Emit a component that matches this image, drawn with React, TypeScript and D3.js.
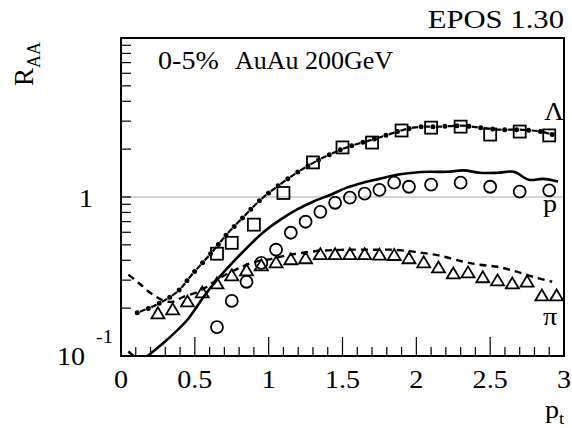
import { useEffect, useRef } from 'react';
import * as d3 from 'd3';

// Lambda (open squares) data
const lambdaPt = [0.65, 0.75, 0.9, 1.1, 1.3, 1.5, 1.7, 1.9, 2.1, 2.3, 2.5, 2.7, 2.9];
const lambdaRaa = [0.44, 0.515, 0.67, 1.06, 1.65, 2.05, 2.2, 2.62, 2.73, 2.77, 2.47, 2.58, 2.44];

// proton (open circles) data
const protonPt = [0.65, 0.75, 0.85, 0.95, 1.05, 1.15, 1.25, 1.35, 1.45, 1.55, 1.65, 1.75, 1.85, 1.95, 2.1, 2.3, 2.5, 2.7, 2.9];
const protonRaa = [0.152, 0.222, 0.293, 0.385, 0.466, 0.596, 0.699, 0.807, 0.92, 0.99, 1.05, 1.11, 1.23, 1.16, 1.195, 1.23, 1.16, 1.08, 1.1];

// pion (open triangles) data
const pionPt = [0.25, 0.35, 0.45, 0.55, 0.65, 0.75, 0.85, 0.95, 1.05, 1.15, 1.25, 1.35, 1.45, 1.55, 1.65, 1.75, 1.85, 1.95, 2.05, 2.15, 2.25, 2.35, 2.45, 2.55, 2.65, 2.75, 2.85, 2.95];
const pionRaa = [0.187, 0.198, 0.222, 0.253, 0.288, 0.324, 0.348, 0.374, 0.391, 0.409, 0.415, 0.44, 0.44, 0.44, 0.44, 0.437, 0.435, 0.415, 0.391, 0.363, 0.333, 0.338, 0.315, 0.301, 0.288, 0.296, 0.242, 0.242];

// EPOS curves
const lambdaCurvePt = [0.11, 0.24, 0.38, 0.49, 0.6, 0.72, 0.83, 0.95, 1.09, 1.23, 1.38, 1.54, 1.7, 1.98, 2.16, 2.31, 2.43, 2.57, 2.7, 2.84, 2.92];
const lambdaCurveRaa = [0.187, 0.21, 0.253, 0.333, 0.432, 0.587, 0.75, 0.97, 1.225, 1.5, 1.79, 2.07, 2.29, 2.73, 2.77, 2.81, 2.73, 2.65, 2.65, 2.58, 2.47];

const protonCurvePt = [0.05, 0.1, 0.15, 0.18, 0.31, 0.45, 0.56, 0.65, 0.76, 0.84, 0.96, 1.08, 1.19, 1.3, 1.42, 1.53, 1.64, 1.75, 1.87, 1.98, 2.09, 2.21, 2.32, 2.43, 2.55, 2.66, 2.76, 2.86, 2.96];
const protonCurveRaa = [0.107, 0.098, 0.095, 0.1, 0.126, 0.169, 0.236, 0.301, 0.391, 0.466, 0.596, 0.72, 0.832, 0.934, 1.034, 1.145, 1.23, 1.3, 1.38, 1.42, 1.44, 1.44, 1.47, 1.42, 1.42, 1.44, 1.285, 1.3, 1.25];

const pionCurvePt = [0.05, 0.12, 0.2, 0.28, 0.35, 0.42, 0.52, 0.58, 0.67, 0.82, 0.91, 0.99, 1.14, 1.35, 1.55, 1.75, 1.84, 1.98, 2.16, 2.32, 2.43, 2.55, 2.66, 2.79, 2.92];
const pionCurveRaa = [0.325, 0.288, 0.249, 0.225, 0.219, 0.235, 0.253, 0.272, 0.31, 0.364, 0.392, 0.403, 0.433, 0.459, 0.466, 0.466, 0.466, 0.453, 0.427, 0.392, 0.375, 0.364, 0.343, 0.315, 0.293];

const xTickLabels = ['0', '0.5', '1', '1.5', '2', '2.5', '3'];

const FONT = '"Liberation Serif", "Times New Roman", serif';

const zip = (xs: number[], ys: number[]) => xs.map((x, i) => ({ x, y: ys[i] }));

const App = () => {
  const svgRef = useRef<SVGSVGElement | null>(null);

  useEffect(() => {
    const W = 572;
    const H = 428;
    const margin = { top: 38, right: 8, bottom: 72, left: 121 };
    const width = W - margin.left - margin.right;
    const height = H - margin.top - margin.bottom;

    const root = d3.select(svgRef.current);
    root.selectAll('*').remove();
    root.attr('width', W).attr('height', H).attr('viewBox', `0 0 ${W} ${H}`);

    root.append('rect').attr('width', W).attr('height', H).attr('fill', '#fff');

    const svg = root.append('g').attr('transform', `translate(${margin.left},${margin.top})`);

    const xScale = d3.scaleLinear().domain([0, 3]).range([0, width]);
    const yScale = d3.scaleLog().domain([0.1, 10]).range([height, 0]);

    svg.append('clipPath').attr('id', 'plot-clip')
      .append('rect').attr('width', width).attr('height', height);

    // reference line at RAA = 1
    svg.append('line')
      .attr('x1', 0).attr('x2', width)
      .attr('y1', yScale(1)).attr('y2', yScale(1))
      .attr('stroke', '#aaa').attr('stroke-width', 1.2);

    // ticks, x axis: major every 0.5, minor every 0.1
    const xMinor = d3.range(1, 30).map(i => i / 10);
    xMinor.forEach(v => {
      const major = Math.abs(v * 2 - Math.round(v * 2)) < 1e-6;
      svg.append('line')
        .attr('x1', xScale(v)).attr('x2', xScale(v))
        .attr('y1', height).attr('y2', height - (major ? 19 : 9))
        .attr('stroke', '#000').attr('stroke-width', 1.2);
    });

    // ticks, y axis (log)
    const yTicks: number[] = [];
    [0.1, 1].forEach(dec => d3.range(2, 10).forEach(k => yTicks.push(k * dec)));
    yTicks.push(1);
    yTicks.forEach(v => {
      svg.append('line')
        .attr('x1', 0).attr('x2', 10)
        .attr('y1', yScale(v)).attr('y2', yScale(v))
        .attr('stroke', '#000').attr('stroke-width', 1.2);
    });

    // frame
    svg.append('rect')
      .attr('width', width).attr('height', height)
      .attr('fill', 'none').attr('stroke', '#000').attr('stroke-width', 2);

    const plot = svg.append('g').attr('clip-path', 'url(#plot-clip)');

    const line = d3.line<{ x: number; y: number }>()
      .x(d => xScale(d.x))
      .y(d => yScale(d.y))
      .curve(d3.curveCatmullRom.alpha(0.5));

    // proton: solid
    plot.append('path')
      .datum(zip(protonCurvePt, protonCurveRaa))
      .attr('d', line)
      .attr('fill', 'none').attr('stroke', '#000').attr('stroke-width', 2.6);

    // pion: dashed
    plot.append('path')
      .datum(zip(pionCurvePt, pionCurveRaa))
      .attr('d', line)
      .attr('fill', 'none').attr('stroke', '#000').attr('stroke-width', 2.4)
      .attr('stroke-dasharray', '7,5');

    // lambda: dash + dot
    const lamData = zip(lambdaCurvePt, lambdaCurveRaa);
    plot.append('path')
      .datum(lamData)
      .attr('d', line)
      .attr('fill', 'none').attr('stroke', '#000').attr('stroke-width', 2.2)
      .attr('stroke-dasharray', '0,3,6,3');
    plot.append('path')
      .datum(lamData)
      .attr('d', line)
      .attr('fill', 'none').attr('stroke', '#000').attr('stroke-width', 5)
      .attr('stroke-linecap', 'round')
      .attr('stroke-dasharray', '0,12');

    // markers
    const mk = plot.append('g').attr('fill', 'none').attr('stroke', '#000').attr('stroke-width', 1.8);

    mk.selectAll(null)
      .data(zip(lambdaPt, lambdaRaa))
      .enter()
      .append('rect')
      .attr('x', d => xScale(d.x) - 6)
      .attr('y', d => yScale(d.y) - 6)
      .attr('width', 12).attr('height', 12);

    mk.selectAll(null)
      .data(zip(protonPt, protonRaa))
      .enter()
      .append('circle')
      .attr('cx', d => xScale(d.x))
      .attr('cy', d => yScale(d.y))
      .attr('r', 6);

    mk.selectAll(null)
      .data(zip(pionPt, pionRaa))
      .enter()
      .append('path')
      .attr('d', d => {
        const cx = xScale(d.x);
        const cy = yScale(d.y);
        return `M${cx - 6.5},${cy + 5.5}L${cx + 6.5},${cy + 5.5}L${cx},${cy - 5.5}Z`;
      });

    // labels (source picture is a little wider than tall, so text gets a small x stretch)
    const txt = (x: number, y: number, s: string, size: number, anchor = 'start', sx = 1.08) =>
      root.append('text')
        .attr('transform', `translate(${x},${y}) scale(${sx},1)`)
        .attr('font-family', FONT).attr('font-size', size)
        .attr('text-anchor', anchor).attr('fill', '#000')
        .text(s);

    xTickLabels.forEach((s, i) => {
      txt(margin.left + xScale(i * 0.5), 388, s, 26, 'middle');
    });

    txt(93, 207, '1', 26, 'end');
    txt(85, 365, '10', 26, 'end');
    txt(96, 343, '-1', 19, 'start');

    txt(564, 28, 'EPOS 1.30', 26, 'end', 1.18);
    txt(158, 69, '0-5%', 26);
    txt(235, 69, 'AuAu 200GeV', 26, 'start', 1.0);

    txt(554, 120, 'Λ', 25, 'middle');
    txt(550, 212, 'p', 26, 'middle');
    txt(550, 325, 'π', 26, 'middle');

    // p_t axis title
    const pt = root.append('text')
      .attr('transform', 'translate(545,418) scale(1.08,1)')
      .attr('font-family', FONT).attr('font-size', 26);
    pt.append('tspan').text('p');
    pt.append('tspan').attr('font-size', 17).attr('dy', 6).text('t');

    // R_AA axis title
    const raa = root.append('text')
      .attr('transform', 'translate(33,86) rotate(-90)')
      .attr('font-family', FONT).attr('font-size', 27);
    raa.append('tspan').text('R');
    raa.append('tspan').attr('font-size', 18).attr('dy', 7).text('AA');
  }, []);

  return (
    <div style={{ position: 'absolute', left: 0, top: 0 }}>
      <svg ref={svgRef} />
    </div>
  );
};

export default App;
